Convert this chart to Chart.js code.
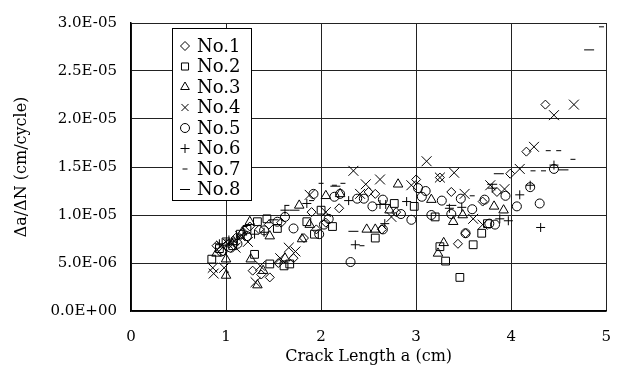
<!DOCTYPE html>
<html>
<head>
<meta charset="utf-8">
<script src="https://cdn.jsdelivr.net/npm/chart.js@4"></script>
<style>
  html, body { margin: 0; padding: 0; background: #fff; }
  #wrap { width: 628px; height: 374px; }
</style>
</head>
<body>
<div id="wrap"><canvas id="grafico" width="628" height="374"></canvas></div>
<script>
// crack length (cm) and growth rate da/dN (cm/cycle) per specimen
const no1X = [0.90, 0.97, 1.03, 1.10, 1.18, 1.25, 1.35, 1.45, 1.58, 1.28, 1.37, 1.46, 1.55, 1.71, 1.82, 1.95, 2.05, 1.90, 2.19, 2.50, 2.57, 2.79, 2.64, 3.00, 3.25, 3.37, 3.52, 3.44, 3.70, 3.85, 3.99, 4.16, 4.36];
const no1Y = [0.68e-5, 0.62e-5, 0.70e-5, 0.76e-5, 0.82e-5, 0.88e-5, 0.85e-5, 0.90e-5, 0.92e-5, 0.42e-5, 0.38e-5, 0.35e-5, 0.50e-5, 0.55e-5, 0.76e-5, 0.85e-5, 0.92e-5, 1.03e-5, 1.07e-5, 1.24e-5, 1.22e-5, 1.03e-5, 0.85e-5, 1.37e-5, 1.39e-5, 1.24e-5, 0.81e-5, 0.70e-5, 1.14e-5, 1.24e-5, 1.43e-5, 1.66e-5, 2.15e-5];

const no2X = [0.85, 0.93, 1.00, 1.07, 1.15, 1.22, 1.30, 1.33, 1.43, 1.46, 1.54, 1.61, 1.67, 1.85, 1.93, 2.00, 2.12, 2.57, 2.77, 2.98, 3.20, 3.25, 3.31, 3.46, 3.60, 3.69, 3.75];
const no2Y = [0.54e-5, 0.65e-5, 0.72e-5, 0.68e-5, 0.80e-5, 0.85e-5, 0.59e-5, 0.93e-5, 0.96e-5, 0.49e-5, 0.86e-5, 0.47e-5, 0.49e-5, 0.93e-5, 0.80e-5, 1.05e-5, 0.88e-5, 0.76e-5, 1.12e-5, 1.09e-5, 0.98e-5, 0.67e-5, 0.52e-5, 0.35e-5, 0.69e-5, 0.81e-5, 0.91e-5];

const no3X = [0.90, 1.00, 1.00, 1.08, 1.17, 1.25, 1.26, 1.33, 1.39, 1.46, 1.62, 1.77, 1.80, 1.88, 2.05, 2.20, 2.48, 2.57, 2.72, 2.81, 3.16, 3.23, 3.29, 3.39, 3.49, 3.82, 3.92];
const no3Y = [0.60e-5, 0.37e-5, 0.54e-5, 0.72e-5, 0.82e-5, 0.93e-5, 0.54e-5, 0.27e-5, 0.42e-5, 0.78e-5, 0.55e-5, 1.10e-5, 0.75e-5, 0.90e-5, 1.20e-5, 1.22e-5, 0.85e-5, 0.85e-5, 1.05e-5, 1.32e-5, 1.16e-5, 0.60e-5, 0.71e-5, 0.93e-5, 1.00e-5, 1.09e-5, 1.05e-5];

const no4X = [0.86, 0.87, 0.95, 0.98, 1.02, 1.10, 1.15, 1.23, 1.31, 1.36, 1.57, 1.66, 1.73, 1.88, 2.05, 2.34, 2.41, 2.47, 2.62, 2.74, 2.95, 3.11, 3.25, 3.40, 3.51, 3.60, 3.70, 3.78, 3.93, 4.09, 4.24, 4.45, 4.66];
const no4Y = [0.45e-5, 0.39e-5, 0.68e-5, 0.45e-5, 0.70e-5, 0.66e-5, 0.78e-5, 0.72e-5, 0.30e-5, 0.47e-5, 0.55e-5, 0.66e-5, 0.62e-5, 1.21e-5, 1.03e-5, 1.46e-5, 1.22e-5, 1.32e-5, 1.37e-5, 0.98e-5, 1.31e-5, 1.56e-5, 1.39e-5, 1.44e-5, 1.22e-5, 0.96e-5, 0.90e-5, 1.31e-5, 1.27e-5, 1.48e-5, 1.71e-5, 2.04e-5, 2.15e-5];

const no5X = [0.95, 1.05, 1.12, 1.22, 1.40, 1.54, 1.62, 1.71, 1.92, 1.98, 2.03, 2.08, 2.14, 2.20, 2.31, 2.38, 2.45, 2.54, 2.65, 2.65, 2.84, 2.95, 3.02, 3.06, 3.10, 3.16, 3.27, 3.37, 3.47, 3.52, 3.59, 3.72, 3.77, 3.83, 3.94, 4.06, 4.20, 4.30, 4.45];
const no5Y = [0.62e-5, 0.66e-5, 0.70e-5, 0.78e-5, 0.84e-5, 0.93e-5, 0.98e-5, 0.86e-5, 1.22e-5, 0.80e-5, 0.90e-5, 0.96e-5, 1.19e-5, 1.22e-5, 0.51e-5, 1.17e-5, 1.17e-5, 1.09e-5, 1.16e-5, 0.85e-5, 1.01e-5, 0.95e-5, 1.28e-5, 1.19e-5, 1.25e-5, 1.00e-5, 1.15e-5, 1.01e-5, 1.17e-5, 0.81e-5, 1.06e-5, 1.16e-5, 0.91e-5, 0.90e-5, 1.20e-5, 1.09e-5, 1.29e-5, 1.12e-5, 1.48e-5];

const no6X = [0.93, 1.03, 1.12, 1.30, 1.40, 1.62, 1.85, 2.29, 2.36, 2.62, 2.67, 2.68, 2.90, 3.35, 3.48, 3.80, 3.88, 3.97, 4.09, 4.20, 4.31, 4.45];
const no6Y = [0.70e-5, 0.74e-5, 0.75e-5, 0.80e-5, 0.82e-5, 1.05e-5, 1.12e-5, 1.15e-5, 0.69e-5, 1.11e-5, 0.91e-5, 1.11e-5, 1.14e-5, 1.07e-5, 1.08e-5, 1.28e-5, 0.96e-5, 0.94e-5, 1.21e-5, 1.31e-5, 0.87e-5, 1.52e-5];

const no7X = [1.20, 1.64, 1.90, 2.00, 2.14, 2.23, 2.43, 3.59, 4.23, 4.34, 4.39, 4.50, 4.65, 4.95];
const no7Y = [0.88e-5, 1.10e-5, 1.15e-5, 1.33e-5, 1.31e-5, 1.33e-5, 0.68e-5, 1.20e-5, 1.46e-5, 1.46e-5, 1.67e-5, 1.67e-5, 1.58e-5, 2.96e-5];

const no8X = [1.50, 1.72, 2.15, 2.34, 3.37, 3.80, 3.87, 4.55, 4.82];
const no8Y = [0.95e-5, 1.05e-5, 1.30e-5, 0.83e-5, 1.10e-5, 1.32e-5, 1.43e-5, 1.47e-5, 2.72e-5];

const etiquetas = ['No.1', 'No.2', 'No.3', 'No.4', 'No.5', 'No.6', 'No.7', 'No.8'];
const estilos = ['rectRot', 'rect', 'triangle', 'crossRot', 'circle', 'cross', 'line', 'line'];
const radios = [4.5, 5.5, 5.5, 7, 4.5, 4.5, 2.5, 5];
const seriesX = [no1X, no2X, no3X, no4X, no5X, no6X, no7X, no8X];
const seriesY = [no1Y, no2Y, no3Y, no4Y, no5Y, no6Y, no7Y, no8Y];

const yTicks = [0, 0.5e-5, 1.0e-5, 1.5e-5, 2.0e-5, 2.5e-5, 3.0e-5];
const xTicks = [0, 1, 2, 3, 4, 5];

const fuente = "'DejaVu Serif', 'Liberation Serif', serif";

const formatoE = (v) => {
    const [m, e] = Number(v).toExponential(1).split('e');
    const signo = e[0] === '-' ? '-' : '+';
    return m + 'E' + signo + e.replace(/[+-]/, '').padStart(2, '0');
};

const datasets = etiquetas.map((nombre, i) => ({
    label: nombre,
    data: seriesX[i].map((x, k) => ({ x: x, y: seriesY[i][k] })),
    pointStyle: estilos[i],
    pointRadius: radios[i],
    pointBorderColor: '#000',
    pointBackgroundColor: 'rgba(0,0,0,0)',
    pointBorderWidth: 1,
    showLine: false
}));

// legend box drawn inside the plot area, upper left
const leyendaPlugin = {
    id: 'leyendaInterna',
    afterDraw(chart) {
        const ctx = chart.ctx;
        const caja = { x: 172, y: 28, w: 79, h: 172 };
        ctx.save();
        ctx.fillStyle = '#fff';
        ctx.fillRect(caja.x, caja.y, caja.w, caja.h);
        ctx.strokeStyle = '#000';
        ctx.lineWidth = 1;
        ctx.strokeRect(caja.x + 0.5, caja.y + 0.5, caja.w, caja.h);
        ctx.font = "18px " + fuente;
        ctx.fillStyle = '#000';
        ctx.textBaseline = 'middle';
        etiquetas.forEach((nombre, i) => {
            const cy = caja.y + 18 + i * 20.5;
            ctx.strokeStyle = '#000';
            ctx.fillStyle = 'rgba(0,0,0,0)';
            ctx.lineWidth = 1;
            Chart.helpers.drawPoint(ctx, {
                pointStyle: estilos[i],
                radius: Math.min(radios[i], 5),
                rotation: 0,
                borderWidth: 1
            }, caja.x + 13, cy);
            ctx.fillStyle = '#000';
            ctx.fillText(nombre, caja.x + 25, cy + 1);
        });
        ctx.restore();
    }
};

const ctx = document.getElementById('grafico').getContext('2d');
const grafico = new Chart(ctx, {
    type: 'scatter',
    data: { datasets: datasets },
    plugins: [leyendaPlugin],
    options: {
        responsive: false,
        animation: false,
        layout: { padding: { top: 18, right: 10, left: 0, bottom: 0 } },
        plugins: {
            legend: { display: false },
            tooltip: { enabled: false }
        },
        scales: {
            x: {
                type: 'linear',
                min: 0,
                max: 5,
                afterBuildTicks: (scale) => { scale.ticks = xTicks.map(v => ({ value: v })); },
                afterFit: (scale) => { scale.height = 63; },
                ticks: {
                    color: '#000',
                    padding: 17,
                    font: { family: fuente, size: 15 },
                    callback: (v) => String(v)
                },
                grid: { color: '#222', lineWidth: 1, drawTicks: false },
                border: { color: '#000', width: 1.5 },
                title: {
                    display: true,
                    text: 'Crack Length a (cm)',
                    color: '#000',
                    font: { family: fuente, size: 16 },
                    padding: { top: 0, bottom: 8 }
                }
            },
            y: {
                type: 'linear',
                min: 0,
                max: 3.0e-5,
                afterBuildTicks: (scale) => { scale.ticks = yTicks.map(v => ({ value: v })); },
                afterFit: (scale) => { scale.width = 131; },
                ticks: {
                    color: '#000',
                    padding: 14,
                    font: { family: fuente, size: 15 },
                    callback: (v) => formatoE(v)
                },
                grid: { color: '#222', lineWidth: 1, drawTicks: false },
                border: { color: '#000', width: 1.5 },
                title: {
                    display: true,
                    text: 'Δa/ΔN (cm/cycle)',
                    color: '#000',
                    font: { family: fuente, size: 16 },
                    padding: { top: 12, bottom: 0 }
                }
            }
        }
    }
});
</script>
</body>
</html>
